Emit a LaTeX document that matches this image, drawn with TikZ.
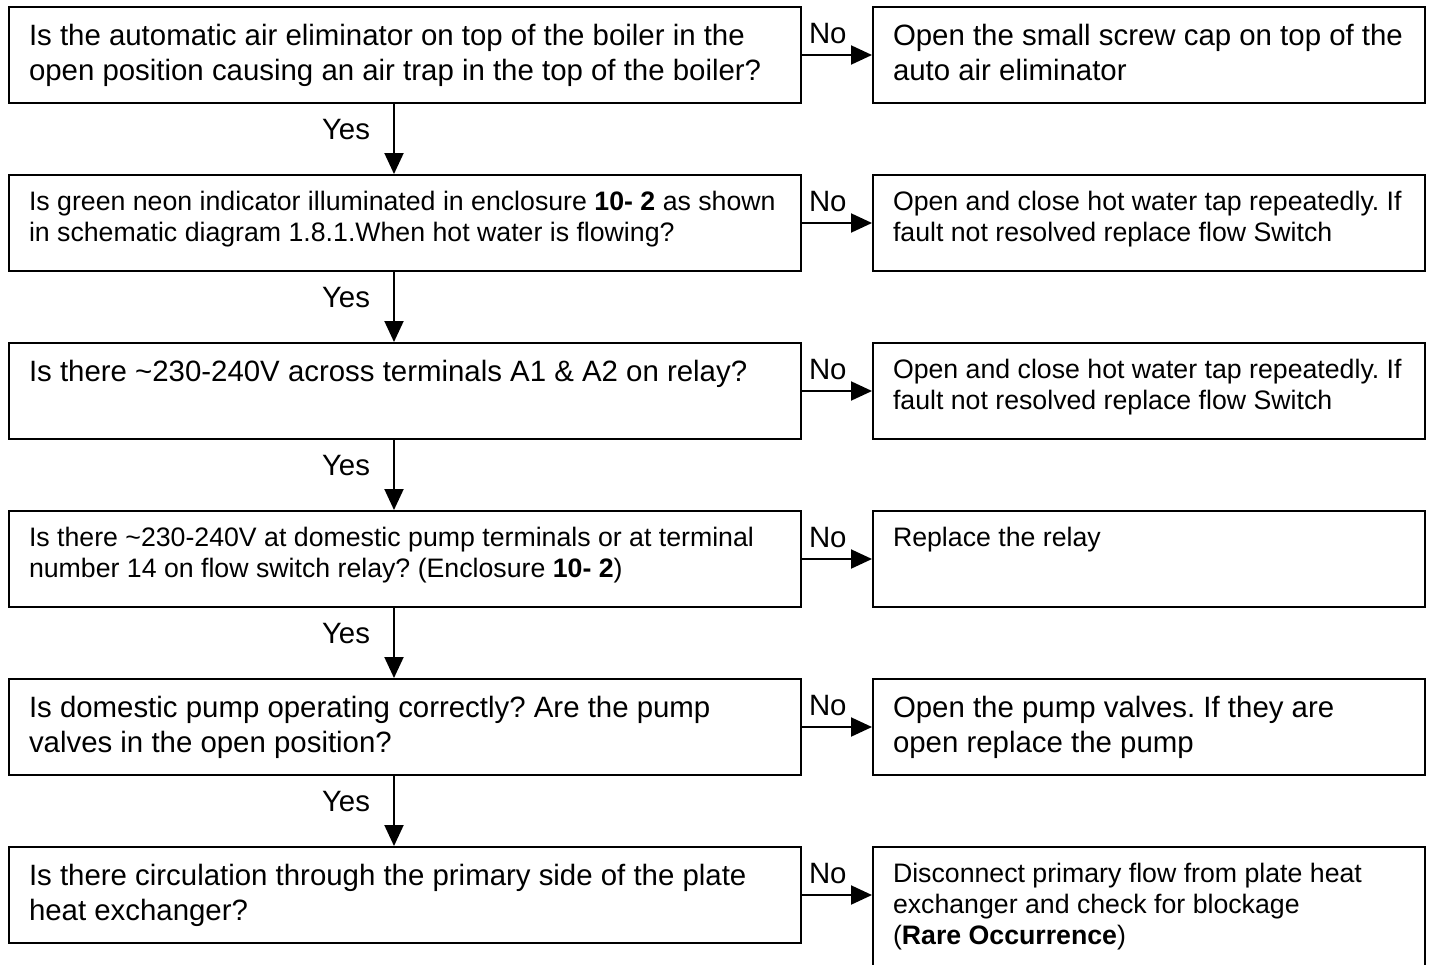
\documentclass[tikz,border=0pt]{standalone}
\usepackage{fontspec}
\setmainfont{Liberation Sans}
\usetikzlibrary{arrows.meta,positioning}

\frenchspacing
\newcommand{\bigtxt}{\fontsize{29.4}{35}\selectfont}
\newcommand{\smalltxt}{\fontsize{26.7}{31}\selectfont}
% box text: top aligned, lines as given
\newcommand{\boxtext}[4][68pt]{\parbox[t][#1][t]{#2}{#3\begin{tabular}[t]{@{}l@{}}#4\end{tabular}}}

\begin{document}
\begin{tikzpicture}[x=1pt,y=-1pt,line width=2pt,
    box/.style={rectangle,draw=black,anchor=north west,inner xsep=20pt,inner ysep=14pt,
      minimum height=96pt},
    question/.style={box,minimum width=792pt},
    action/.style={box,minimum width=552pt},
    flow/.style={-{Triangle[length=21pt,width=19pt]}}]

\useasboundingbox (0,0) rectangle (1431,964);

\node[question] (q1) at (8,6) {\boxtext{752pt}{\bigtxt}{Is the automatic air eliminator on top of the boiler in the\\ open position causing an air trap in the top of the boiler?}};
\node[action] (a1) at (872,6) {\boxtext{512pt}{\bigtxt}{Open the small screw cap on top of the\\ auto air eliminator}};

\node[question] (q2) at (8,174) {\boxtext{752pt}{\smalltxt}{Is green neon indicator illuminated in enclosure \textbf{10- 2} as shown\\ in schematic diagram 1.8.1.When hot water is flowing?}};
\node[action] (a2) at (872,174) {\boxtext{512pt}{\smalltxt}{Open and close hot water tap repeatedly. If\\ fault not resolved replace flow Switch}};

\node[question] (q3) at (8,342) {\boxtext{752pt}{\bigtxt}{Is there \textasciitilde230-240V across terminals A1 \& A2 on relay?}};
\node[action] (a3) at (872,342) {\boxtext{512pt}{\smalltxt}{Open and close hot water tap repeatedly. If\\ fault not resolved replace flow Switch}};

\node[question] (q4) at (8,510) {\boxtext{752pt}{\smalltxt}{Is there \textasciitilde230-240V at domestic pump terminals or at terminal\\ number 14 on flow switch relay? (Enclosure \textbf{10- 2})}};
\node[action] (a4) at (872,510) {\boxtext{512pt}{\smalltxt}{Replace the relay}};

\node[question] (q5) at (8,678) {\boxtext{752pt}{\bigtxt}{Is domestic pump operating correctly? Are the pump\\ valves in the open position?}};
\node[action] (a5) at (872,678) {\boxtext{512pt}{\bigtxt}{Open the pump valves. If they are\\ open replace the pump}};

\node[question] (q6) at (8,846) {\boxtext{752pt}{\bigtxt}{Is there circulation through the primary side of the plate\\ heat exchanger?}};
\node[action,minimum height=124pt] (a6) at (872,846) {\boxtext[96pt]{512pt}{\smalltxt}{Disconnect primary flow from plate heat\\ exchanger and check for blockage\\ (\textbf{Rare Occurrence})}};

\coordinate (ax) at (394,0);

\path[flow,every node/.style={font=\bigtxt,inner sep=0pt}]
(q1.south -| ax) edge node[pos=0.36,left=23pt] {Yes} (q2.north -| ax)
(q2.south -| ax) edge node[pos=0.36,left=23pt] {Yes} (q3.north -| ax)
(q3.south -| ax) edge node[pos=0.36,left=23pt] {Yes} (q4.north -| ax)
(q4.south -| ax) edge node[pos=0.36,left=23pt] {Yes} (q5.north -| ax)
(q5.south -| ax) edge node[pos=0.36,left=23pt] {Yes} (q6.north -| ax);

\path[flow,every node/.style={font=\bigtxt,inner sep=0pt}]
(q1.east) edge node[pos=0,above right=10pt and 6pt] {No} (a1.west)
(q2.east) edge node[pos=0,above right=10pt and 6pt] {No} (a2.west)
(q3.east) edge node[pos=0,above right=10pt and 6pt] {No} (a3.west)
(q4.east) edge node[pos=0,above right=10pt and 6pt] {No} (a4.west)
(q5.east) edge node[pos=0,above right=10pt and 6pt] {No} (a5.west)
(q6.east) edge node[pos=0,above right=10pt and 6pt] {No} (q6.east -| a6.west);

\end{tikzpicture}
\end{document}
